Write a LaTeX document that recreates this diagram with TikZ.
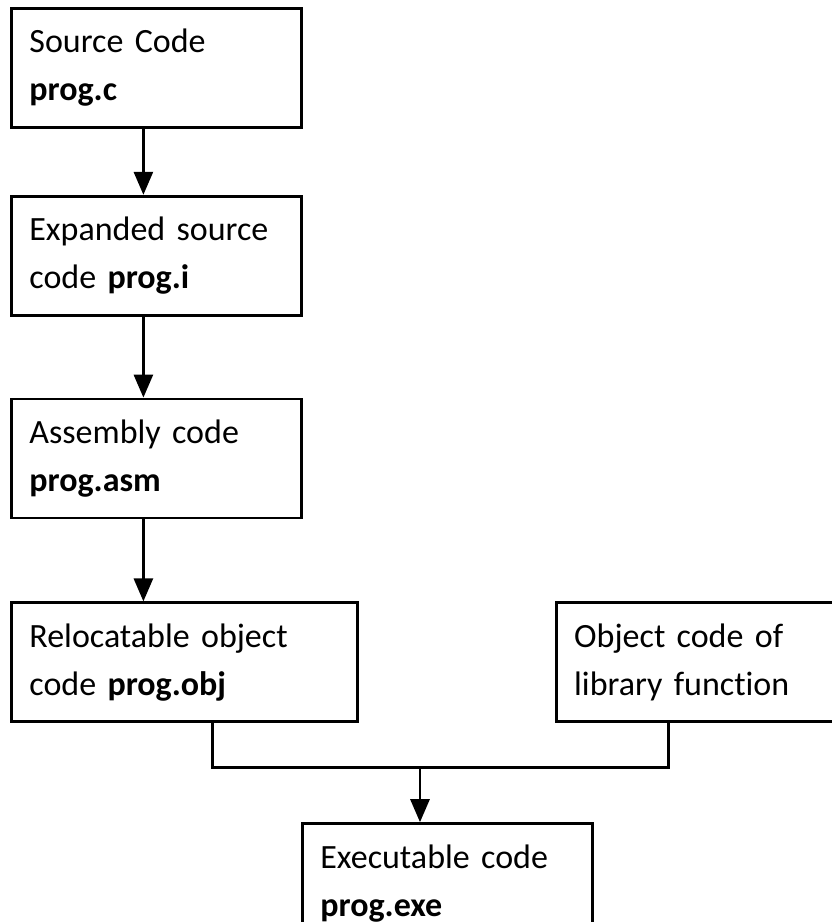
\documentclass[tikz,border=0pt]{standalone}
\usepackage{fontspec}
\setmainfont{Carlito}[Ligatures=CommonOff]
\usetikzlibrary{positioning,arrows.meta}

\begin{document}
\begin{tikzpicture}[x=0.5pt,y=-0.5pt,main/.style={draw, rectangle, line width=1.4pt, minimum height=59.5pt, inner xsep=9pt, inner ysep=0pt, align=left, font=\fontsize{17}{24}\selectfont},
    link/.style={line width=1.4pt, -{Triangle[length=11.5pt,width=9.5pt]}}]
    \useasboundingbox (0,0) rectangle (831,922);

    \node[main, text width=127pt, anchor=north west] (0) at (10,7) {Source Code\\\textbf{prog.c}};
    \node[main, text width=127pt] (1) [below=33pt of 0.south west, anchor=north west] {Expanded source\\code \textbf{prog.i}};
    \node[main, text width=127pt] (2) [below=40.5pt of 1.south west, anchor=north west] {Assembly code\\\textbf{prog.asm}};
    \node[main, text width=155pt] (3) [below=41pt of 2.south west, anchor=north west] {Relocatable object\\code \textbf{prog.obj}};
    \node[main, text width=155pt] (4) [right=98pt of 3.north east, anchor=north west] {Object code of\\library function};
    \node[main, text width=127pt] (5) [below right=49.5pt and 145.5pt of 3.south west] {Executable code\\\textbf{prog.exe}};

    \coordinate (j) at ([xshift=59.5pt,yshift=27.5pt]5.north west);

    \draw[link] ([xshift=-6.5pt]0.south) -- ([xshift=-6.5pt]1.north);
    \draw[link] ([xshift=-6.5pt]1.south) -- ([xshift=-6.5pt]2.north);
    \draw[link] ([xshift=-6.5pt]2.south) -- ([xshift=-20.5pt]3.north);
    \draw[line width=1.4pt] ([xshift=14pt]3.south) |- (j) -| ([xshift=57pt]4.south west);
    \draw[link] (j) -- (j |- 5.north);
\end{tikzpicture}
\end{document}
